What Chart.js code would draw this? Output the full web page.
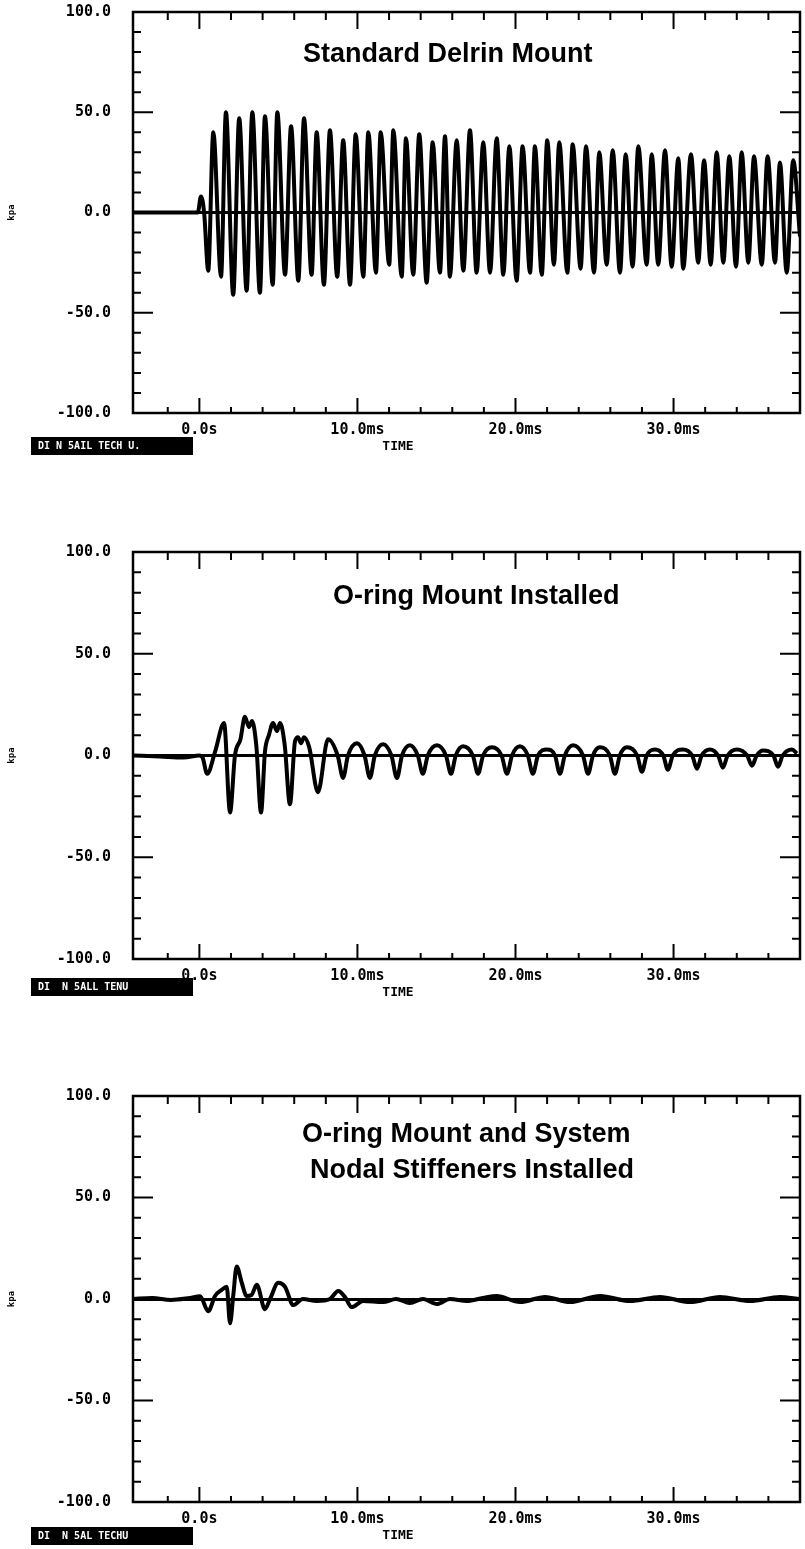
<!DOCTYPE html>
<html lang="en">
<head>
  <meta charset="UTF-8">
  <title>Mount Pressure Traces</title>
  <script src="https://cdn.jsdelivr.net/npm/chart.js"></script>
  <style>
    body { margin: 0; background: #fff; }
    .panel { position: absolute; left: 0; width: 805px; height: 465px; }
  </style>
</head>
<body>
  <div class="panel" style="top:0px"><canvas id="delrinChart" width="805" height="465"></canvas></div>
  <div class="panel" style="top:540px"><canvas id="oringChart" width="805" height="465"></canvas></div>
  <div class="panel" style="top:1084px"><canvas id="nodalChart" width="805" height="465"></canvas></div>

  <script>
    // axis ticks (time in ms, pressure in kpa)
    const timeTicks = [-2, 0, 2, 4, 6, 8, 10, 12, 14, 16, 18, 20, 22, 24, 26, 28, 30, 32, 34, 36, 38];
    const timeMajor = [0, 10, 20, 30];
    const timeLabels = ['0.0s', '10.0ms', '20.0ms', '30.0ms'];
    const kpaTicks = [-100, -90, -80, -70, -60, -50, -40, -30, -20, -10, 0, 10, 20, 30, 40, 50, 60, 70, 80, 90, 100];
    const kpaMajor = [-100, -50, 0, 50, 100];
    const kpaLabels = ['-100.0', '-50.0', '0.0', '50.0', '100.0'];

    // Standard Delrin mount
    const delrinTime = [-4.2, -0.1, 0.1, 0.3,
      0.56, 0.88, 1.37, 1.68, 2.14, 2.52, 2.99, 3.35, 3.83, 4.15, 4.64, 4.93, 5.42, 5.80, 6.26, 6.62,
      7.10, 7.42, 7.88, 8.26, 8.72, 9.10, 9.53, 9.89, 10.37, 10.69, 11.17, 11.47, 12.01, 12.27, 12.80, 13.07,
      13.53, 13.91, 14.38, 14.76, 15.22, 15.54, 15.85, 16.28, 16.70, 17.12, 17.54, 17.96, 18.39, 18.81,
      19.23, 19.61, 20.07, 20.45, 20.92, 21.23, 21.66, 22.01, 22.43, 22.77, 23.28, 23.62, 24.12, 24.46,
      24.97, 25.30, 25.77, 26.15, 26.61, 26.97, 27.41, 27.77, 28.30, 28.62, 29.03, 29.46, 29.88, 30.30,
      30.61, 31.10, 31.56, 31.93, 32.35, 32.73, 33.15, 33.53, 33.95, 34.31, 34.73, 35.09, 35.58, 35.95,
      36.42, 36.73, 37.16, 37.57, 38.0];
    const delrinKpa = [0, 0, 8, 0,
      -29, 40, -32, 50, -41, 47, -39, 50, -40, 48, -36, 50, -31, 43, -34, 47,
      -31, 40, -36, 41, -32, 36, -36, 39, -32, 40, -30, 40, -26, 41, -32, 37,
      -31, 39, -35, 35, -30, 38, -32, 36, -29, 41, -30, 35, -30, 37,
      -31, 33, -34, 33, -30, 33, -31, 36, -26, 35, -30, 34, -28, 33,
      -30, 30, -26, 31, -30, 29, -27, 33, -26, 29, -26, 31, -27, 27,
      -28, 29, -25, 26, -26, 30, -25, 28, -27, 30, -25, 28, -26, 28,
      -25, 25, -30, 26, -12];

    // O-ring mount installed
    const oringTime = [-4.2, -2.5, -1.0, 0.0, 0.2, 0.49, 1.0, 1.56, 1.94, 2.25, 2.6, 2.88, 3.14, 3.33, 3.6, 3.9,
      4.15, 4.4, 4.66, 4.91, 5.1, 5.4, 5.73, 6.05, 6.24, 6.43, 6.62, 6.95, 7.5, 8.14,
      8.75, 9.09, 9.40, 9.97, 10.45, 10.79, 11.10, 11.62, 12.15, 12.50, 12.82, 13.32, 13.82, 14.14, 14.45,
      15.03, 15.60, 15.92, 16.22, 16.68, 17.30, 17.63, 17.95, 18.51, 19.12, 19.46, 19.78, 20.28, 20.78,
      21.10, 21.42, 21.99, 22.50, 22.81, 23.12, 23.64, 24.27, 24.59, 24.90, 25.34, 25.97, 26.29, 26.60,
      27.05, 27.70, 28.00, 28.30, 28.82, 29.35, 29.64, 29.95, 30.59, 31.18, 31.48, 31.78, 32.30, 32.82,
      33.12, 33.42, 34.01, 34.66, 34.96, 35.26, 35.66, 36.32, 36.61, 36.90, 37.50, 37.8];
    const oringKpa = [0, -0.5, -1, 0, -1, -9, 2, 16, -28, 0, 8, 19, 14, 17, 5, -28,
      2, 10, 16, 12, 16, 5, -24, 7, 9, 6, 9, 4, -18, 8,
      0, -11, 0, 6, 0, -11, 0, 5.5, 0, -11, 0, 5, 0, -9, 0,
      5, 0, -9, 0, 4.5, 0, -9, 0, 4, 0, -9, 0, 4.5, 0,
      -9, 0, 3, 0, -9, 0, 5, 0, -9, 0, 4, 0, -9, 0,
      4, 0, -8, 0, 3, 0, -7, 0, 3, 0, -6.5, 0, 3, 0,
      -6, 0, 3, 0, -5, 0, 2.5, 0, -5.5, 0, 3, 1];

    // O-ring mount and system nodal stiffeners installed
    const nodalTime = [-4.2, -3.0, -1.8, -0.6, 0.04, 0.56, 0.99, 1.41, 1.73, 1.94, 2.14, 2.36, 2.68, 2.99,
      3.3, 3.63, 4.15, 4.47, 4.99, 5.42, 5.94, 6.55, 7.42, 8.26, 8.79, 9.21, 9.64, 10.35, 11.62, 12.44,
      13.32, 14.15, 15.03, 15.85, 16.93, 17.94, 18.81, 20.28, 21.87, 23.45, 25.36, 27.24, 29.14, 31.04,
      32.94, 34.84, 36.73, 38.0];
    const nodalKpa = [0, 0.5, -0.5, 0.5, 1.3, -6, 1.5, 4.5, 6, -12, 1.5, 16, 8, 1.5,
      2, 7, -5, 0, 8, 6, -3, 0, -1, 0, 4, 1, -4, -1, -1.5, 0,
      -2, 0, -2.5, 0, -1, 0.5, 1.5, -1.5, 1, -1.5, 1.5, -1, 1, -1.5,
      1, -1, 1, 0];

    const monoFont = '"DejaVu Sans Mono", monospace';

    // frame with inward ticks on all four sides, caption, TIME and stamp box
    const framePlugin = {
      id: 'frame',
      afterDraw(chart, args, opts) {
        const { ctx, chartArea: a, scales: { x, y } } = chart;
        ctx.save();
        ctx.strokeStyle = '#000';
        ctx.lineWidth = 2;
        ctx.beginPath();
        x.ticks.forEach(t => {
          const px = x.getPixelForValue(t.value);
          const major = t.value % 10 === 0;
          ctx.moveTo(px, a.bottom);
          ctx.lineTo(px, a.bottom - (major ? 15 : 6));
          ctx.moveTo(px, a.top);
          ctx.lineTo(px, a.top + (major ? 17 : 8));
        });
        y.ticks.forEach(t => {
          const py = y.getPixelForValue(t.value);
          const len = t.value % 50 === 0 ? 20 : 8;
          ctx.moveTo(a.left, py);
          ctx.lineTo(a.left + len, py);
          ctx.moveTo(a.right, py);
          ctx.lineTo(a.right - len, py);
        });
        ctx.stroke();
        ctx.lineWidth = 2.5;
        ctx.strokeRect(a.left, a.top, a.right - a.left, a.bottom - a.top);

        // caption inside the plot
        ctx.fillStyle = '#000';
        ctx.font = 'bold 27px "Liberation Sans", Arial, sans-serif';
        ctx.textAlign = 'left';
        ctx.textBaseline = 'alphabetic';
        opts.caption.forEach((line, i) => ctx.fillText(line, opts.captionX[i], opts.captionY[i]));

        // TIME axis name
        ctx.font = 'bold 13px ' + monoFont;
        ctx.textAlign = 'center';
        ctx.textBaseline = 'middle';
        ctx.fillText('TIME', 398, a.bottom + 34);

        // black stamp box
        ctx.fillRect(31, a.bottom + opts.stampTop, 162, 18);
        ctx.fillStyle = '#fff';
        ctx.font = 'bold 10px ' + monoFont;
        ctx.textAlign = 'left';
        ctx.fillText(opts.stamp, 38, a.bottom + opts.stampTop + 9.5);
        ctx.restore();
      }
    };

    function makePanel(id, time, kpa, plotHeight, lineWidth, frameOpts) {
      const points = time.map((t, i) => ({ x: t, y: kpa[i] }));
      return new Chart(document.getElementById(id), {
        type: 'line',
        data: {
          datasets: [{
            data: points,
            borderColor: '#000',
            borderWidth: lineWidth,
            pointRadius: 0,
            cubicInterpolationMode: 'monotone',
            fill: false
          }]
        },
        plugins: [framePlugin],
        options: {
          responsive: false,
          animation: false,
          devicePixelRatio: 1,
          layout: { padding: { top: 12, right: 5, left: 0, bottom: 0 } },
          plugins: {
            legend: { display: false },
            tooltip: { enabled: false },
            frame: frameOpts
          },
          scales: {
            x: {
              type: 'linear',
              min: -4.2,
              max: 38,
              afterBuildTicks: s => { s.ticks = timeTicks.map(v => ({ value: v })); },
              afterFit: s => { s.height = 465 - 12 - plotHeight; },
              grid: { display: false },
              border: { display: false },
              ticks: {
                autoSkip: false,
                maxRotation: 0,
                padding: 0,
                color: '#000',
                font: { family: monoFont, size: 15, weight: 'bold' },
                callback: v => {
                  const k = timeMajor.indexOf(v);
                  return k >= 0 ? timeLabels[k] : '';
                }
              }
            },
            y: {
              min: -100,
              max: 100,
              afterBuildTicks: s => { s.ticks = kpaTicks.map(v => ({ value: v })); },
              afterFit: s => { s.width = 133; },
              grid: {
                drawTicks: true,
                tickLength: 22,
                tickColor: 'rgba(0,0,0,0)',
                lineWidth: 3,
                color: c => (c.tick && c.tick.value === 0 ? '#000' : 'rgba(0,0,0,0)')
              },
              border: { display: false },
              title: {
                display: true,
                text: 'kpa',
                color: '#000',
                padding: { top: 6, bottom: 0 },
                font: { family: monoFont, size: 9, weight: 'bold' }
              },
              ticks: {
                autoSkip: false,
                padding: 0,
                color: '#000',
                font: { family: monoFont, size: 15, weight: 'bold' },
                callback: v => {
                  const k = kpaMajor.indexOf(v);
                  return k >= 0 ? kpaLabels[k] : '';
                }
              }
            }
          }
        }
      });
    }

    makePanel('delrinChart', delrinTime, delrinKpa, 401, 4, {
      caption: ['Standard Delrin Mount'],
      captionX: [303], captionY: [62],
      stamp: 'DI N 5AIL TECH U.', stampTop: 24
    });
    makePanel('oringChart', oringTime, oringKpa, 407, 4, {
      caption: ['O-ring Mount Installed'],
      captionX: [333], captionY: [64],
      stamp: 'DI  N 5ALL TENU', stampTop: 19
    });
    makePanel('nodalChart', nodalTime, nodalKpa, 406, 4, {
      caption: ['O-ring Mount and System', 'Nodal Stiffeners Installed'],
      captionX: [302, 310], captionY: [58, 94],
      stamp: 'DI  N 5AL TECHU', stampTop: 25
    });
  </script>
</body>
</html>
